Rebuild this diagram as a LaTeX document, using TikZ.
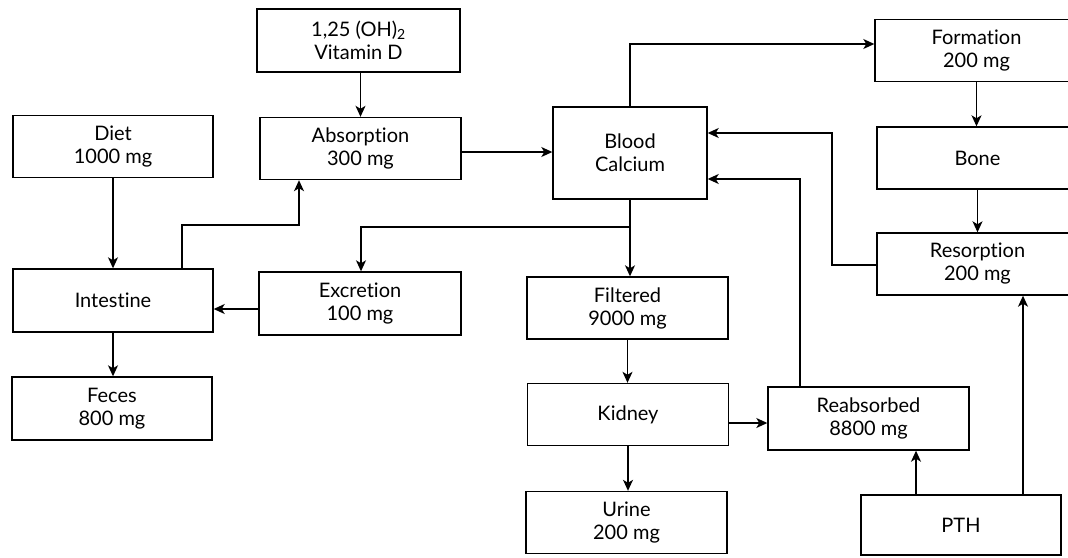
\documentclass[tikz,border=0pt]{standalone}
\usepackage{fontspec}
\setmainfont{Lato}[Ligatures=NoCommon]
\usetikzlibrary{arrows.meta}
\begin{document}
\begin{tikzpicture}[x=1pt,y=-1pt,
  box/.style={draw, line width=1.4pt, minimum width=201pt, minimum height=62pt, align=center, inner sep=0pt, font=\fontsize{20}{23}\selectfont},
  arr/.style={-{Stealth[length=11pt,width=10pt,inset=3pt]}, line width=1.3pt}]
\useasboundingbox (0,0) rectangle (1068,557);
\clip (0,0) rectangle (1068,557);
\fill[white] (0,0) rectangle (1068,557);
\node[box, minimum width=203pt, minimum height=63pt] (vit) at (358.5,40.5) {1,25 (OH)\textsubscript{2}\\Vitamin D};
\node[box] (absn) at (360.5,148.5) {Absorption\\300 mg};
\node[box, minimum width=200pt] (diet) at (113,146.5) {Diet\\1000 mg};
\node[box, minimum width=154pt, minimum height=92pt] (blood) at (630,153) {Blood\\Calcium};
\node[box, minimum width=203pt] (form) at (976.5,50.5) {Formation\\200 mg};
\node[box] (bone) at (977.5,158) {Bone};
\node[box] (reso) at (977.5,264) {Resorption\\200 mg};
\node[box, minimum width=200pt, minimum height=63pt] (intest) at (113,300.5) {Intestine};
\node[box, minimum width=202pt, minimum height=63pt] (excr) at (360,303.5) {Excretion\\100 mg};
\node[box] (filt) at (627.5,308) {Filtered\\9000 mg};
\node[box, minimum width=200pt, minimum height=63pt] (feces) at (112,408.5) {Feces\\800 mg};
\node[box] (kid) at (628,414.5) {Kidney};
\node[box, minimum height=63pt] (reab) at (868.5,418.5) {Reabsorbed\\8800 mg};
\node[box] (urine) at (626.5,522.5) {Urine\\200 mg};
\node[box, minimum width=200pt, minimum height=60pt] (pth) at (961,525) {PTH};

\draw[arr] (vit.south -| absn.north) -- (absn.north);
\coordinate (yab) at (0,152);
\draw[arr] (absn.east |- yab) -- (blood.west |- yab);
\draw[arr] (diet.south) -- (intest.north);
\coordinate (a1) at (182,225);
\coordinate (a2) at (299,225);
\draw[arr] (intest.north -| a1) -- (a1) -- (a2) -- (absn.south -| a2);
\coordinate (b1) at (630,227);
\coordinate (b2) at (361,227);
\draw[arr] (blood.south) -- (filt.north -| blood.south);
\draw[arr] (b1) -- (b2) -- (excr.north -| b2);
\coordinate (e1) at (0,309);
\draw[arr] (excr.west |- e1) -- (intest.east |- e1);
\draw[arr] (intest.south) -- (feces.north -| intest.south);
\draw[arr] (filt.south) -- (kid.north -| filt.south);
\draw[arr] (kid.south) -- (urine.north -| kid.south);
\coordinate (k1) at (0,423);
\draw[arr] (kid.east |- k1) -- (reab.west |- k1);
\coordinate (r1) at (800,179);
\draw[arr] (reab.north -| r1) -- (r1) -- (blood.east |- r1);
\coordinate (s1) at (832,265);
\coordinate (s2) at (832,133);
\draw[arr] (reso.west |- s1) -- (s1) -- (s2) -- (blood.east |- s2);
\coordinate (f1) at (630,44);
\draw[arr] (blood.north) -- (f1) -- (form.west |- f1);
\draw[arr] (form.south) -- (bone.north -| form.south);
\draw[arr] (bone.south) -- (reso.north -| bone.south);
\coordinate (p1) at (916,0);
\coordinate (p2) at (1023,0);
\draw[arr] (pth.north -| p1) -- (reab.south -| p1);
\draw[arr] (pth.north -| p2) -- (reso.south -| p2);
\end{tikzpicture}
\end{document}
